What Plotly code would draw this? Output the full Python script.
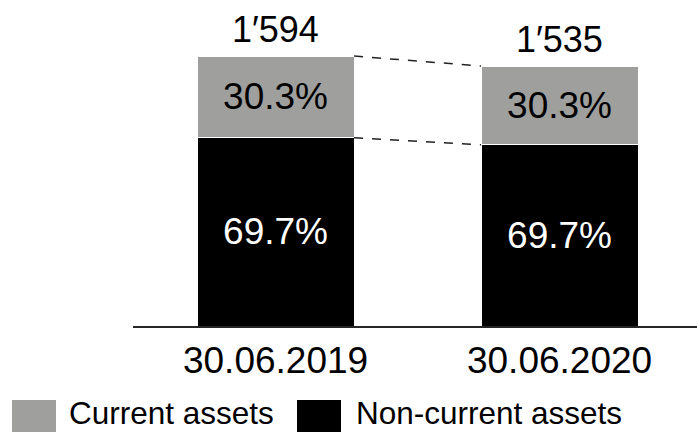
import plotly.graph_objects as go

categories = ["30.06.2019", "30.06.2020"]
non_current = [1111, 1070]
current = [483, 465]
totals = [1594, 1535]
total_labels = ["1\u2032594", "1\u2032535"]
current_labels = ["30.3%", "30.3%"]
non_current_labels = ["69.7%", "69.7%"]
series_names = ["Current assets", "Non-current assets"]

GRAY = "#9f9f9d"
BLACK = "#000000"
FONT = "Liberation Sans, Arial, sans-serif"
BAR_W = 0.553

W, H = 697, 432
L, B = 133, 106
PW, PH = W - L, H - B


def px_x(p):
    return (p - L) / PW


def px_y(p):
    return (PH - p) / PH


fig = go.Figure()
fig.add_trace(go.Bar(
    x=[0, 1], y=non_current, width=BAR_W, name=series_names[1],
    marker=dict(color=BLACK, line=dict(color="white", width=1)),
    text=non_current_labels, textposition="inside", insidetextanchor="middle",
    textfont=dict(color="white", size=37, family=FONT), constraintext="none",
    textangle=0, showlegend=False, hoverinfo="skip",
))
fig.add_trace(go.Bar(
    x=[0, 1], y=current, width=BAR_W, name=series_names[0],
    marker=dict(color=GRAY, line=dict(color="white", width=1)),
    text=current_labels, textposition="inside", insidetextanchor="middle",
    textfont=dict(color="black", size=37, family=FONT), constraintext="none",
    textangle=0, showlegend=False, hoverinfo="skip",
))

# totals above bars
for i, (t, lab) in enumerate(zip(totals, total_labels)):
    fig.add_annotation(x=i, y=t, text=lab, showarrow=False, xref="x", yref="y",
                       yanchor="bottom", yshift=4,
                       font=dict(size=36, family=FONT, color="black"))

# dashed connectors
for y0, y1 in [(totals[0], totals[1]), (non_current[0], non_current[1])]:
    fig.add_shape(type="line", xref="x", yref="y",
                  x0=0 + BAR_W / 2, x1=1 - BAR_W / 2, y0=y0, y1=y1,
                  line=dict(color="#222222", width=1.5, dash="dash"))

# custom legend
legend_items = [(12, 56, GRAY, series_names[0], 67), (297, 341, BLACK, series_names[1], 354)]
for x0, x1, col, name, tx in legend_items:
    fig.add_shape(type="rect", xref="paper", yref="paper",
                  x0=px_x(x0), x1=px_x(x1), y0=px_y(400), y1=px_y(444),
                  fillcolor=col, line=dict(width=0))
    fig.add_annotation(x=px_x(tx), y=px_y(413), xref="paper", yref="paper",
                       text=name, showarrow=False, xanchor="left", yanchor="middle",
                       font=dict(size=31.5, family=FONT, color="black"))

fig.update_layout(
    width=W, height=H,
    margin=dict(l=L, r=0, t=0, b=B),
    paper_bgcolor="white", plot_bgcolor="white",
    barmode="stack", showlegend=False,
    font=dict(family=FONT, color="black"),
    xaxis=dict(range=[-0.502, 1.484], tickmode="array", tickvals=[0, 1],
               ticktext=categories, showgrid=False, zeroline=False,
               showline=True, linecolor="#262626", linewidth=1.5,
               ticks="", ticklabelstandoff=1,
               tickfont=dict(size=37, family=FONT, color="black")),
    yaxis=dict(range=[0, 1925], visible=False, showgrid=False, zeroline=False),
)

fig.write_html("out.html", config={"displayModeBar": False},
               post_script="document.body.style.margin='0';document.body.style.overflow='hidden';")
